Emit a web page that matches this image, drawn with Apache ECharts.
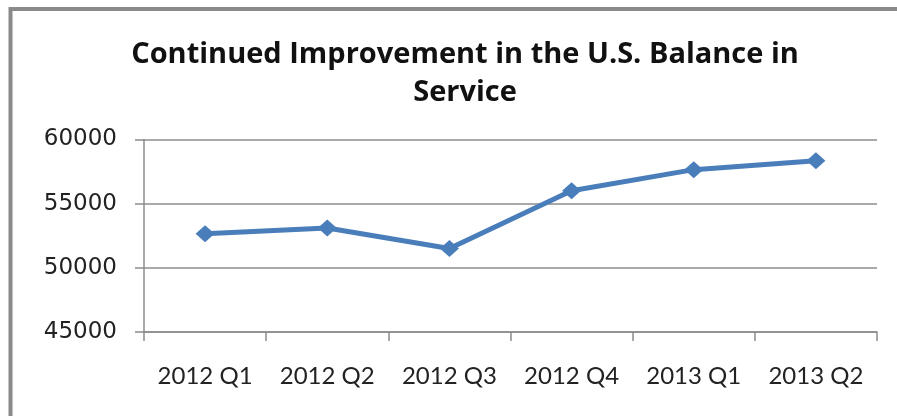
<!DOCTYPE html>
<html>
<head>
<meta charset="utf-8">
<script src="https://cdn.jsdelivr.net/npm/echarts@6/dist/echarts.min.js"></script>
<style>
html,body{margin:0;padding:0;background:#fff;}
#chart{width:897px;height:416px;}
</style>
</head>
<body>
<div id="chart"></div>
<script>
const titleText = 'Continued Improvement in the U.S. Balance in\nService';
const categories = ['2012 Q1', '2012 Q2', '2012 Q3', '2012 Q4', '2013 Q1', '2013 Q2'];
const serviceBalance = [52650, 53100, 51500, 56000, 57650, 58350];
const yMin = 45000, yMax = 60000, yStep = 5000;

const chart = echarts.init(document.getElementById('chart'), null, {renderer: 'canvas'});
chart.setOption({
  animation: false,
  backgroundColor: '#ffffff',
  graphic: [{
    type: 'rect',
    shape: {x: 10.5, y: 9, width: 950, height: 500},
    style: {fill: 'none', stroke: '#8a8a8a', lineWidth: 4},
    silent: true
  }],
  title: {
    text: titleText,
    left: 460,
    top: 31,
    textAlign: 'center',
    textStyle: {
      fontFamily: 'Open Sans',
      fontWeight: 'bold',
      fontSize: 29,
      lineHeight: 38,
      color: '#111'
    }
  },
  grid: {
    left: 144, top: 139.5, width: 733, height: 192.5,
    containLabel: false, outerBoundsMode: 'none'
  },
  xAxis: {
    type: 'category',
    data: categories,
    boundaryGap: true,
    axisLine: {show: true, lineStyle: {color: '#8c8c8c', width: 1.5}},
    axisTick: {show: true, interval: 0, length: 9, lineStyle: {color: '#8c8c8c', width: 1.5}},
    axisLabel: {
      interval: 0, margin: 32,
      fontFamily: 'Lato', fontSize: 24, lineHeight: 24, color: '#222'
    },
    splitLine: {show: false}
  },
  yAxis: {
    type: 'value',
    min: yMin, max: yMax, interval: yStep,
    axisLine: {show: true, lineStyle: {color: '#8c8c8c', width: 1.5}},
    axisTick: {show: true, length: 9, lineStyle: {color: '#8c8c8c', width: 1.5}},
    axisLabel: {
      margin: 27,
      formatter: function (v) { return String(v); },
      fontFamily: 'DejaVu Sans', fontSize: 23, color: '#222'
    },
    splitLine: {show: true, lineStyle: {color: '#8c8c8c', width: 1.5}}
  },
  series: [{
    type: 'line',
    data: serviceBalance,
    symbol: 'diamond',
    symbolSize: [19, 17],
    lineStyle: {color: '#4a7ebb', width: 5},
    itemStyle: {color: '#4a7ebb'},
    z: 5
  }]
});
</script>
</body>
</html>
